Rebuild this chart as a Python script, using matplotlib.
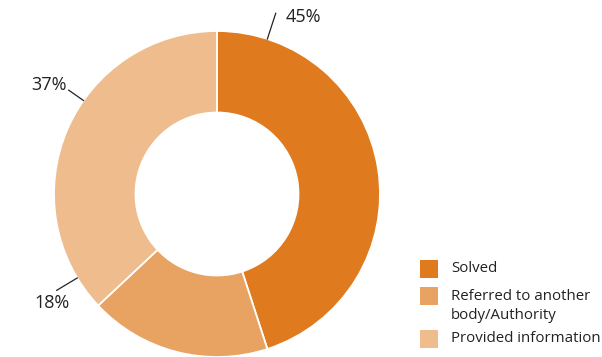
import numpy as np
import matplotlib.pyplot as plt
from matplotlib.patches import Rectangle

labels = ['Solved', 'Referred to another\nbody/Authority', 'Provided information']
shares = [45, 18, 37]
colors = ['#E07A1E', '#E8A262', '#EEBC8D']

plt.rcParams['font.family'] = ['Open Sans', 'DejaVu Sans']

fig = plt.figure(figsize=(6.02, 3.57), dpi=100)
ax = fig.add_axes([0, 0, 1, 1])

cx, cy, r_out = 217, 163, 163
wedges, _ = ax.pie(shares, colors=colors, startangle=90, counterclock=False,
                   center=(cx, cy), radius=r_out, frame=True,
                   wedgeprops=dict(width=r_out * 0.5, edgecolor='white', linewidth=1.3))
ax.set_xlim(0, 602)
ax.set_ylim(0, 357)
ax.set_aspect('equal')
ax.axis('off')

# leader lines per slice: angle on the ring, outer end radius, text position, alignment
callouts = [(72, 190, (286, 340), 'left'),
            (211, 187, (52, 54), 'center'),
            (145, 181, (67, 272), 'right')]
for val, (ang, r2, (tx, ty), ha) in zip(shares, callouts):
    a = np.deg2rad(ang)
    x1, y1 = cx + r_out * np.cos(a), cy + r_out * np.sin(a)
    x2, y2 = cx + r2 * np.cos(a), cy + r2 * np.sin(a)
    ax.plot([x1, x2], [y1, y2], color='#222222', lw=0.9)
    ax.text(tx, ty, f'{val}%', ha=ha, va='center', fontsize=13, color='#222222')

# legend, drawn by hand
box_y = [79, 52, 9]
text_y = [88, 51, 18]
for lab, col, by, ty in zip(labels, colors, box_y, text_y):
    ax.add_patch(Rectangle((420, by), 18, 18, facecolor=col, edgecolor='none'))
    ax.text(451, ty, lab, ha='left', va='center', fontsize=10.8,
            color='#222222', linespacing=1.3)

fig.savefig('out.png', dpi=100)
